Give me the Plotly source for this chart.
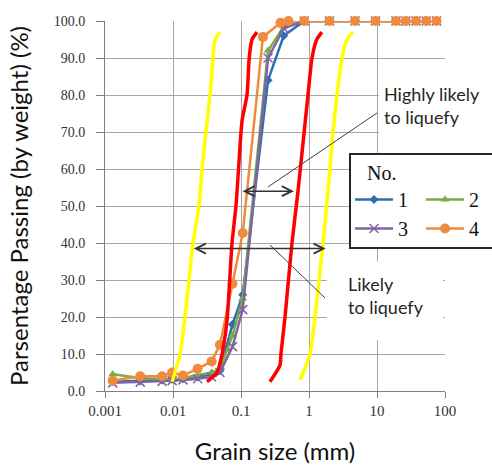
import math
import plotly.graph_objects as go

# ---------------- data ----------------
sizes_123 = [0.0013, 0.0033, 0.0069, 0.0097, 0.014, 0.023, 0.037, 0.049, 0.075, 0.106,
             0.25, 0.425, 0.85, 2.0, 4.75, 9.5, 19.0, 26.5, 37.5, 53.0, 75.0]
pass_1 = [2.5, 2.7, 3.0, 3.2, 3.3, 3.8, 4.5, 5.5, 18, 26, 84, 96, 100, 100, 100, 100, 100, 100, 100, 100, 100]
pass_2 = [4.5, 3.5, 3.2, 3.0, 3.5, 4.2, 5.0, 6.0, 15, 25, 92, 98.5, 100, 100, 100, 100, 100, 100, 100, 100, 100]
pass_3 = [2.2, 2.4, 2.6, 2.8, 3.0, 3.3, 3.8, 5.0, 12, 22, 90, 98, 100, 100, 100, 100, 100, 100, 100, 100, 100]
sizes_4 = [0.0013, 0.0033, 0.0069, 0.0097, 0.014, 0.023, 0.037, 0.049, 0.075, 0.106,
           0.21, 0.38, 0.5, 0.85, 2.0, 4.75, 9.5, 19.0, 26.5, 37.5, 53.0, 75.0]
pass_4 = [2.8, 4.0, 4.0, 5.0, 4.2, 6.0, 8.0, 12.5, 29, 42.7, 95.7, 99.5, 100, 100, 100, 100, 100, 100, 100, 100, 100, 100]
series_names = ["1", "2", "3", "4"]

# boundary curves (grain size mm, % passing)
yl_x = [0.0097, 0.0127, 0.015, 0.0172, 0.0197, 0.0241, 0.0267, 0.0305, 0.035, 0.0388, 0.0415, 0.049]
yl_y = [2.5, 10, 20, 30, 40, 50, 60, 70, 80, 90, 95, 97]
rl_x = [0.0316, 0.0444, 0.0526, 0.0622, 0.0738, 0.0843, 0.092, 0.1035, 0.1225, 0.132, 0.145, 0.172]
rl_y = [2.5, 5, 10, 19, 40, 50, 60, 73, 80, 90, 95, 97]
rr_x = [0.267, 0.375, 0.387, 0.444, 0.562, 0.689, 0.966, 1.107, 1.3, 1.55]
rr_y = [2.5, 7, 10, 20, 40, 54, 80, 90, 95, 97]
yr_x = [0.738, 1.035, 1.225, 1.607, 1.903, 2.25, 2.58, 3.06, 3.6, 4.44]
yr_y = [3, 10, 20, 40, 54, 70, 80, 90, 95, 97]

# range arrows (mm from, mm to, % passing)
arrow_high = [0.1, 0.6, 54]
arrow_likely = [0.0192, 1.76, 38.5]

x_tickvals = [0.001, 0.01, 0.1, 1, 10, 100]
x_ticktext = ["0.001", "0.01", "0.1", "1", "10", "100"]
y_tickvals = [0, 10, 20, 30, 40, 50, 60, 70, 80, 90, 100]

# ---------------- figure ----------------
fig = go.Figure()

styles = [
    dict(color="#2E6DB4", symbol="diamond", size=7, group="a"),
    dict(color="#78AD45", symbol="triangle-up", size=8, group="b"),
    dict(color="#8064A2", symbol="x-thin", size=9, group="a"),
    dict(color="#F08A3C", symbol="circle", size=10, group="b"),
]
xs = [sizes_123, sizes_123, sizes_123, sizes_4]
ys = [pass_1, pass_2, pass_3, pass_4]
for name, st, x, y in zip(series_names, styles, xs, ys):
    marker = dict(symbol=st["symbol"], size=st["size"], color=st["color"])
    if st["symbol"] == "x-thin":
        marker["line"] = dict(color=st["color"], width=1.5)
    fig.add_trace(go.Scatter(
        x=x, y=y, name=name, mode="lines+markers",
        line=dict(color=st["color"], width=2.5),
        marker=marker, legendgroup=st["group"], cliponaxis=False,
    ))

for bx, by, col in [(yl_x, yl_y, "#FFFF00"), (rl_x, rl_y, "#FF0000"),
                    (rr_x, rr_y, "#FF0000"), (yr_x, yr_y, "#FFFF00")]:
    fig.add_trace(go.Scatter(x=bx, y=by, mode="lines", showlegend=False,
                             line=dict(color=col, width=3.5, shape="spline", smoothing=0.6),
                             hoverinfo="skip"))

# white boxes behind the text boxes
fig.add_shape(type="rect", xref="paper", yref="paper", x0=0.806, x1=1.14, y0=0.651, y1=0.876,
              fillcolor="white", line=dict(width=0), layer="above")
fig.add_shape(type="rect", xref="paper", yref="paper", x0=0.652, x1=0.994, y0=0.138, y1=0.349,
              fillcolor="white", line=dict(width=0), layer="above")
# legend frame (runs off the right edge)
fig.add_shape(type="rect", xref="paper", yref="paper", x0=0.7206, x1=1.25, y0=0.3865, y1=0.6405,
              fillcolor="white", line=dict(color="#262626", width=2), layer="above")
# leader lines
fig.add_shape(type="line", xref="paper", yref="paper", x0=0.80, y0=0.7514, x1=0.4794, y1=0.5514,
              line=dict(color="#404040", width=1), layer="above")
fig.add_shape(type="line", xref="paper", yref="paper", x0=0.4853, y0=0.3946, x1=0.6471, y1=0.2514,
              line=dict(color="#404040", width=1), layer="above")

for a in (arrow_high, arrow_likely):
    fig.add_annotation(x=math.log10(a[1]), y=a[2], ax=math.log10(a[0]), ay=a[2],
                       xref="x", yref="y", axref="x", ayref="y", text="",
                       showarrow=True, arrowside="end+start", arrowhead=5, startarrowhead=5,
                       arrowsize=1.3, startarrowsize=1.3, arrowwidth=1.5, arrowcolor="#333333",
                       standoff=0, startstandoff=0)

fig.add_annotation(x=0.815, y=0.772, xref="paper", yref="paper", xanchor="left", yanchor="middle",
                   text="Highly likely<br>to liquefy", showarrow=False, align="left",
                   font=dict(family="Lato", size=18, color="#262626"))
fig.add_annotation(x=0.708, y=0.258, xref="paper", yref="paper", xanchor="left", yanchor="middle",
                   text="Likely<br>to liquefy", showarrow=False, align="left",
                   font=dict(family="Lato", size=18, color="#262626"))

fig.update_layout(
    width=492, height=465,
    margin=dict(l=105, r=47, t=21, b=74, autoexpand=False),
    paper_bgcolor="white", plot_bgcolor="white",
    showlegend=True,
    legend=dict(
        orientation="h", traceorder="grouped", x=0.7206, xanchor="left", y=0.6405, yanchor="top",
        title=dict(text="&nbsp;&nbsp;&nbsp;No.", side="top",
                   font=dict(family="Liberation Serif", size=20, color="#111")),
        font=dict(family="Liberation Serif", size=20, color="#111"),
        bgcolor="rgba(0,0,0,0)", borderwidth=0,
        itemwidth=38, entrywidth=18,
    ),
    xaxis=dict(
        type="log", range=[-3, 2], tickvals=x_tickvals, ticktext=x_ticktext, automargin=False,
        showgrid=True, gridcolor="#A6A6A6", gridwidth=1,
        showline=True, linecolor="#808080", linewidth=1,
        ticks="outside", ticklen=6, tickcolor="#808080",
        tickfont=dict(family="Liberation Serif", size=15, color="#333"),
        title=dict(text="Grain size (mm)", font=dict(family="Lato", size=24, color="#111"), standoff=25),
        zeroline=False,
    ),
    yaxis=dict(
        range=[0, 100], tickvals=y_tickvals, tickformat=".1f", automargin=False,
        showgrid=True, gridcolor="#A6A6A6", gridwidth=1,
        showline=True, linecolor="#808080", linewidth=1,
        ticks="outside", ticklen=8, tickcolor="#808080", ticklabelstandoff=8,
        tickfont=dict(family="Liberation Serif", size=14, color="#333"),
        title=dict(text="Parsentage Passing (by weight) (%)", font=dict(family="Lato", size=24, color="#111"),
                   standoff=18),
        zeroline=False,
    ),
)

fig.write_html("out.html", config={"displayModeBar": False},
               post_script="document.body.style.margin='0';document.body.style.overflow='hidden';")
